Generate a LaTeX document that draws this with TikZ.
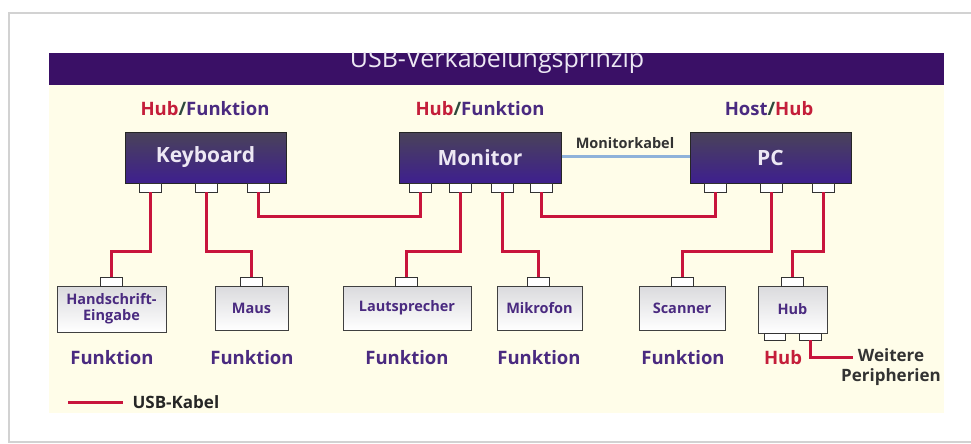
\documentclass[tikz,border=0pt]{standalone}
\usepackage{fontspec}
\setmainfont{Open Sans}
\definecolor{titlepurple}{HTML}{3A1066}
\definecolor{cream}{HTML}{FFFDE9}
\definecolor{bigtop}{HTML}{4A4359}
\definecolor{bigbot}{HTML}{3E1F8E}
\definecolor{boxtext}{HTML}{EDE8F4}
\definecolor{devtop}{HTML}{DADADD}
\definecolor{fpurple}{HTML}{4A2A80}
\definecolor{hubred}{HTML}{C41E3A}
\definecolor{usbred}{HTML}{C8143C}
\definecolor{slashcol}{HTML}{2E4A3C}
\definecolor{monblue}{HTML}{8FB2DA}
\begin{document}
\begin{tikzpicture}[x=1pt,y=-1pt,
  bigbox/.style={draw=black!85, line width=1pt, top color=bigtop, bottom color=bigbot, minimum height=51pt, text=boxtext, font=\fontsize{21}{24}\selectfont\bfseries, inner sep=0pt},
  devbox/.style={draw=black!75, line width=1pt, top color=devtop, bottom color=white, text=fpurple, font=\fontsize{14.5}{16}\selectfont\bfseries, align=center, inner sep=0pt},
  portbox/.style={draw=black!80, line width=0.9pt, fill=white, minimum width=22pt, minimum height=9pt, inner sep=0pt},
  usb/.style={draw=usbred, line width=3pt},
  role/.style={font=\fontsize{18.5}{20}\selectfont\bfseries, text=fpurple},
]
\useasboundingbox (0,0) rectangle (971,444);
% card frame
\fill[white] (0,0) rectangle (971,444);
\draw[gray!35, line width=2pt] (9,13) rectangle (990,442);
% panel
\fill[cream] (49,85) rectangle (944,413);
\fill[titlepurple] (49,53) rectangle (944,85);
\begin{scope}
\clip (49,53) rectangle (944,85);
\node[anchor=base, text=boxtext, font=\fontsize{25}{28}\selectfont] (title) at (497,67) {USB-Verkabelungsprinzip};
\end{scope}

% role labels
\node[role] (kbrole) at (205,109) {\textcolor{hubred}{Hub}\textcolor{slashcol}{/}Funktion};
\node[role] (monrole) at (480,109) {\textcolor{hubred}{Hub}\textcolor{slashcol}{/}Funktion};
\node[role] (pcrole) at (769,109) {Host\textcolor{slashcol}{/}\textcolor{hubred}{Hub}};

% big boxes
\node[bigbox, minimum width=161pt] (kb) at (205.5,157.5) {Keyboard};
\node[bigbox, minimum width=162pt] (mon) at (480,157.5) {Monitor};
\node[bigbox, minimum width=161pt] (pc) at (770.5,157.5) {PC};

% monitor cable
\node[font=\fontsize{14.5}{16}\selectfont\bfseries, text=black!80] (mklabel) at (625,143) {Monitorkabel};
\draw[monblue, line width=3pt] (mon.east |- 0,156) -- (pc.west |- 0,156);

% ports of big boxes
\node[portbox] (kp1) at (150.5,187.5) {};
\node[portbox] (kp2) at (206,187.5) {};
\node[portbox] (kp3) at (258,187.5) {};
\node[portbox] (mp1) at (420,187.5) {};
\node[portbox] (mp2) at (460,187.5) {};
\node[portbox] (mp3) at (502,187.5) {};
\node[portbox] (mp4) at (541.5,187.5) {};
\node[portbox] (pp1) at (715.5,187.5) {};
\node[portbox] (pp2) at (771.5,187.5) {};
\node[portbox] (pp3) at (823,187.5) {};

% device boxes
\node[devbox, minimum width=109pt, minimum height=46pt] (hs) at (111.5,309) {Handschrift-\\Eingabe};
\node[devbox, minimum width=73pt, minimum height=44pt] (maus) at (251.5,308) {Maus};
\node[devbox, minimum width=128pt, minimum height=44pt] (laut) at (407,308) {Lautsprecher};
\node[devbox, minimum width=85pt, minimum height=44pt] (mik) at (539.5,308) {Mikrofon};
\node[devbox, minimum width=86pt, minimum height=44pt] (scan) at (682,308) {Scanner};
\node[devbox, minimum width=69pt, minimum height=47pt] (hub) at (792.5,309.5) {Hub};

% device ports
\node[portbox] (hsp) at (111.5,281.5) {};
\node[portbox] (mausp) at (251.5,281.5) {};
\node[portbox] (lautp) at (406,281.5) {};
\node[portbox] (mikp) at (538.5,281.5) {};
\node[portbox] (scanp) at (682,281.5) {};
\node[portbox] (hubp) at (792.5,281.5) {};
\node[portbox, minimum width=21pt, minimum height=7pt] (hubb1) at (774.5,336.5) {};
\node[portbox, minimum width=22pt, minimum height=7pt] (hubb2) at (810.5,336.5) {};

% USB cables
\draw[usb] (kp1.south) -- (kp1.south |- 0,251) -| (hsp.north);
\draw[usb] (kp2.south) -- (kp2.south |- 0,251) -| (mausp.north);
\draw[usb] (kp3.south) -- (kp3.south |- 0,216) -| (mp1.south);
\draw[usb] (mp2.south) -- (mp2.south |- 0,251) -| (lautp.north);
\draw[usb] (mp3.south) -- (mp3.south |- 0,251) -| (mikp.north);
\draw[usb] (mp4.south) -- (mp4.south |- 0,216) -| (pp1.south);
\draw[usb] (pp2.south) -- (pp2.south |- 0,251) -| (scanp.north);
\draw[usb] (pp3.south) -- (pp3.south |- 0,251) -| (hubp.north);
\coordinate (wpend) at (853,357);
\draw[usb] (hubb2.south) |- (wpend);

% function labels
\node[role] (f1) at (112,358) {Funktion};
\node[role] (f2) at (252,358) {Funktion};
\node[role] (f3) at (407,358) {Funktion};
\node[role] (f4) at (539,358) {Funktion};
\node[role] (f5) at (683,358) {Funktion};
\node[role, text=hubred] (f6) at (783,358) {Hub};
\node[font=\fontsize{17}{19.5}\selectfont\bfseries, text=black!80, align=center] (wp) at (891,367) {Weitere\\Peripherien};

% legend
\coordinate (lg1) at (68,402);
\coordinate (lg2) at (123,402);
\draw[usb] (lg1) -- (lg2);
\node[anchor=west, font=\fontsize{17}{19}\selectfont\bfseries, text=black!85] (lgtext) at (129,402) {USB-Kabel};
\end{tikzpicture}
\end{document}
